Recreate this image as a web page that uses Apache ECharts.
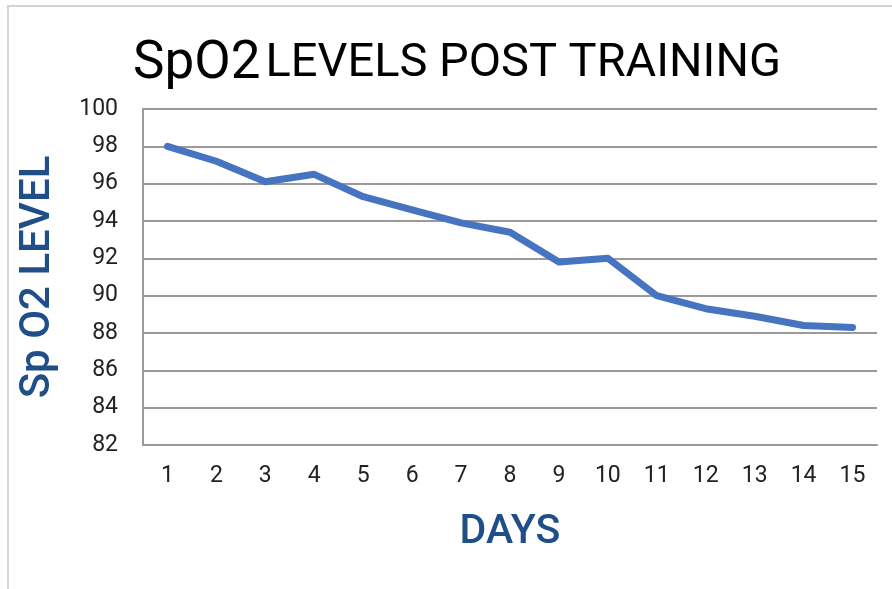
<!DOCTYPE html>
<html>
<head>
<meta charset="utf-8">
<script src="https://cdn.jsdelivr.net/npm/echarts@6/dist/echarts.min.js"></script>
<style>
html,body{margin:0;padding:0;background:#fff;}
#frame{position:absolute;left:7px;top:5px;width:885px;height:584px;border-top:2px solid #d4d4d4;border-left:2px solid #d4d4d4;box-sizing:border-box;}
#chart{position:absolute;left:0;top:0;width:892px;height:589px;}
</style>
</head>
<body>
<div id="frame"></div>
<div id="chart"></div>
<script>
const days = ['1','2','3','4','5','6','7','8','9','10','11','12','13','14','15'];
const spo2 = [98.0, 97.2, 96.1, 96.5, 95.3, 94.6, 93.9, 93.4, 91.8, 92.0, 90.0, 89.3, 88.9, 88.4, 88.3];
const yMin = 82, yMax = 100, yStep = 2;

const chart = echarts.init(document.getElementById('chart'), null, {renderer:'canvas'});
chart.setOption({
  backgroundColor: 'transparent',
  title: {
    text: '{a|SpO2} {b|LEVELS POST TRAINING}',
    left: 128,
    top: 33,
    textStyle: {
      rich: {
        a: {fontFamily: 'Roboto', fontSize: 53, fontWeight: 'normal', color: '#000'},
        b: {fontFamily: 'Roboto', fontSize: 47, fontWeight: 'normal', color: '#000'}
      }
    }
  },
  grid: {left: 143, right: 15, top: 109, bottom: 144, containLabel: false},
  xAxis: {
    type: 'category',
    data: days,
    boundaryGap: true,
    name: 'DAYS',
    nameLocation: 'middle',
    nameGap: 67,
    nameTextStyle: {fontFamily: 'Roboto', fontSize: 41, fontWeight: 500, color: '#1F4E89'},
    axisLine: {lineStyle: {color: '#9a9a9a', width: 2}},
    axisTick: {show: false},
    axisLabel: {fontFamily: 'Roboto', fontSize: 23, color: '#222', margin: 20}
  },
  yAxis: {
    type: 'value',
    min: yMin, max: yMax, interval: yStep,
    name: 'Sp O2 LEVEL',
    nameLocation: 'middle',
    nameGap: 84,
    nameTextStyle: {fontFamily: 'Roboto', fontSize: 42, fontWeight: 500, color: '#1F4E89'},
    axisLine: {show: true, lineStyle: {color: '#9a9a9a', width: 2}},
    axisTick: {show: false},
    axisLabel: {fontFamily: 'Roboto', fontSize: 23, color: '#222', margin: 25},
    splitLine: {lineStyle: {color: '#9a9a9a', width: 2}}
  },
  series: [{
    type: 'line',
    data: spo2,
    symbol: 'none',
    lineStyle: {color: '#4674C1', width: 7, cap: 'round', join: 'round'},
    animation: false
  }],
  animation: false
});
</script>
</body>
</html>
